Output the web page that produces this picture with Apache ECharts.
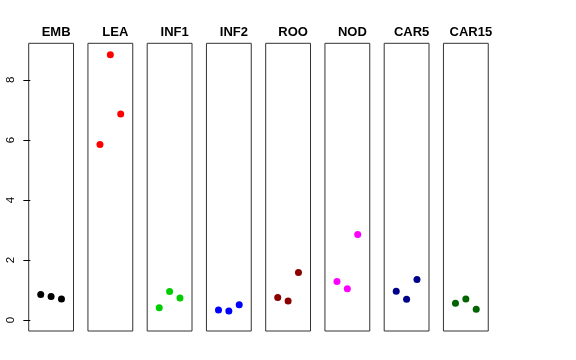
<!DOCTYPE html>
<html>
<head>
<meta charset="utf-8">
<script src="https://cdn.jsdelivr.net/npm/echarts@6/dist/echarts.min.js"></script>
<style>html,body{margin:0;padding:0;background:#fff}#c{width:576px;height:360px}</style>
</head>
<body>
<div id="c"></div>
<script>
const categories = ["EMB", "LEA", "INF1", "INF2", "ROO", "NOD", "CAR5", "CAR15"];
const EMB   = [0.85, 0.785, 0.70];
const LEA   = [5.85, 8.84, 6.86];
const INF1  = [0.41, 0.95, 0.73];
const INF2  = [0.33, 0.30, 0.51];
const ROO   = [0.75, 0.63, 1.58];
const NOD   = [1.28, 1.04, 2.85];
const CAR5  = [0.96, 0.69, 1.35];
const CAR15 = [0.56, 0.70, 0.355];
const seriesValues = [EMB, LEA, INF1, INF2, ROO, NOD, CAR5, CAR15];
const colors = ["#000000", "#FF0000", "#00CD00", "#0000FF", "#8B0000", "#FF00FF", "#00008B", "#006400"];
const yTicks = [0, 2, 4, 6, 8];
const replicate = [1, 2, 3];

const panelLeft0 = 28.7, panelStep = 59.25, panelW = 44.8;
const panelTop = 43.3, panelH = 287.7;

const grid = [], xAxis = [], yAxis = [], series = [], title = [];
categories.forEach((name, i) => {
  const left = panelLeft0 + i * panelStep;
  grid.push({left: left, top: panelTop, width: panelW, height: panelH,
    show: true, borderColor: '#333', borderWidth: 1, backgroundColor: 'transparent'});
  xAxis.push({type: 'value', gridIndex: i, min: -0.16, max: 4.16, show: false});
  yAxis.push({type: 'value', gridIndex: i, min: -0.367, max: 9.22,
    show: i === 0,
    splitLine: {show: false},
    axisLine: {show: false},
    axisTick: {show: true, length: 7, customValues: yTicks, lineStyle: {color: '#000'}},
    axisLabel: {show: true, customValues: yTicks, rotate: 90, margin: 12,
      fontFamily: 'Liberation Sans, Arial, sans-serif', fontSize: 11.5, color: '#000'}
  });
  series.push({type: 'scatter', xAxisIndex: i, yAxisIndex: i, symbol: 'circle', symbolSize: 7,
    itemStyle: {color: colors[i], opacity: 1},
    data: seriesValues[i].map((v, j) => [replicate[j], v])});
  title.push({text: name, left: left + panelW / 2, top: 21, textAlign: 'center',
    textStyle: {fontFamily: 'Liberation Sans, Arial, sans-serif', fontWeight: 'bold', fontSize: 13, color: '#000'}});
});

const chart = echarts.init(document.getElementById('c'), null, {renderer: 'canvas'});
chart.setOption({animation: false, title, grid, xAxis, yAxis, series});
</script>
</body>
</html>
